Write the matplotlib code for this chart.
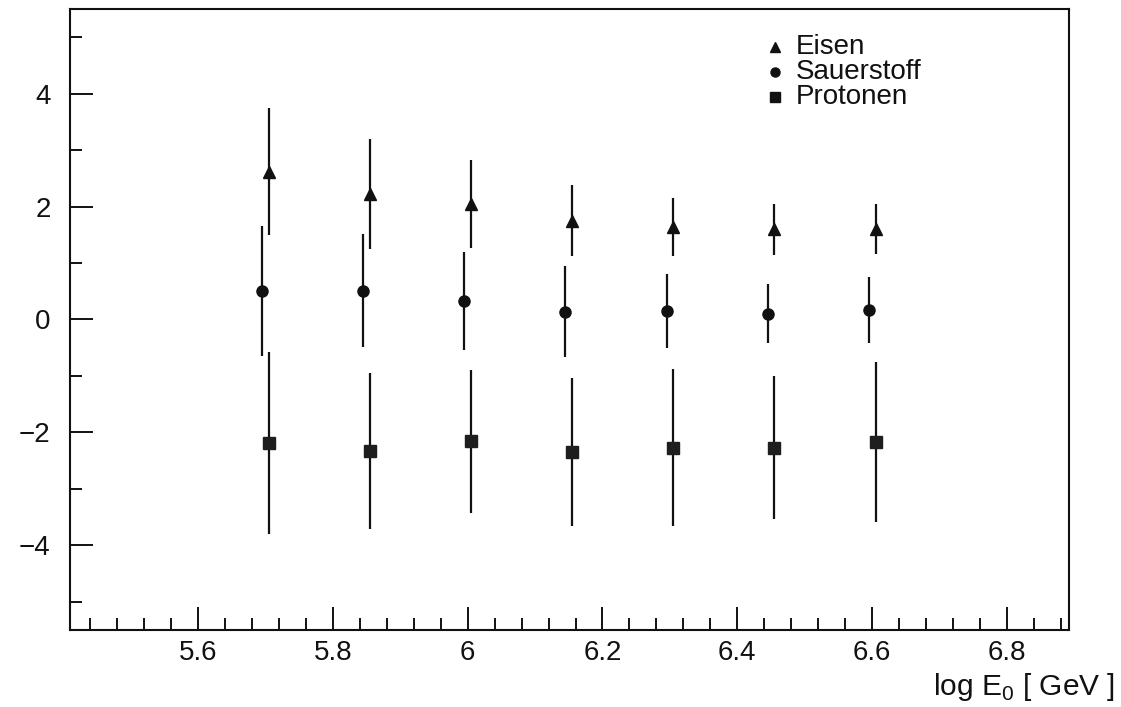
import matplotlib
matplotlib.use("Agg")
import matplotlib.pyplot as plt
from matplotlib.ticker import MultipleLocator, FixedLocator, FixedFormatter

plt.rcParams['font.family'] = ['Liberation Sans', 'DejaVu Sans']
plt.rcParams['mathtext.fontset'] = 'custom'
plt.rcParams['mathtext.rm'] = 'Liberation Sans'

# log10 of primary energy (GeV) for each species
x_eisen = [5.705, 5.855, 6.005, 6.155, 6.305, 6.455, 6.605]
x_sauerstoff = [5.695, 5.845, 5.995, 6.145, 6.295, 6.445, 6.595]
x_protonen = [5.705, 5.855, 6.005, 6.155, 6.305, 6.455, 6.605]

# mean values and their spreads
y_eisen = [2.62, 2.22, 2.05, 1.75, 1.64, 1.60, 1.60]
e_eisen = [1.13, 0.97, 0.78, 0.63, 0.52, 0.45, 0.44]

y_sauerstoff = [0.51, 0.51, 0.33, 0.14, 0.15, 0.10, 0.17]
e_sauerstoff = [1.15, 1.00, 0.87, 0.81, 0.66, 0.52, 0.58]

y_protonen = [-2.19, -2.33, -2.16, -2.34, -2.27, -2.27, -2.17]
e_protonen = [1.61, 1.38, 1.27, 1.31, 1.39, 1.27, 1.41]

labels = ["Eisen", "Sauerstoff", "Protonen"]
x_ticks = [5.6, 5.8, 6.0, 6.2, 6.4, 6.6, 6.8]
x_ticklabels = ["5.6", "5.8", "6", "6.2", "6.4", "6.6", "6.8"]
y_ticks = [-4, -2, 0, 2, 4]

fig = plt.figure(figsize=(11.21, 7.07), dpi=100)
ax = fig.add_axes([0.0624, 0.1089, 0.8912, 0.8784])

ink = "#111111"
ax.errorbar(x_eisen, y_eisen, yerr=e_eisen, fmt='^', ms=9, color=ink,
            ecolor=ink, elinewidth=1.6, capsize=0)
ax.errorbar(x_sauerstoff, y_sauerstoff, yerr=e_sauerstoff, fmt='o', ms=8,
            color=ink, ecolor=ink, elinewidth=1.6, capsize=0)
ax.errorbar(x_protonen, y_protonen, yerr=e_protonen, fmt='s', ms=8.5,
            color="#1e1e1e", ecolor=ink, elinewidth=1.6, capsize=0)

ax.set_xlim(5.41, 6.892)
ax.set_ylim(-5.5, 5.5)

ax.xaxis.set_major_locator(FixedLocator(x_ticks))
ax.xaxis.set_major_formatter(FixedFormatter(x_ticklabels))
ax.xaxis.set_minor_locator(MultipleLocator(0.04))
ax.yaxis.set_major_locator(FixedLocator(y_ticks))
ax.yaxis.set_minor_locator(MultipleLocator(1))

ax.tick_params(which='both', direction='in', top=False, right=False,
               width=1.4, color=ink, labelsize=20, labelcolor=ink)
ax.tick_params(which='major', length=16.5)
ax.tick_params(which='minor', length=8.5)
ax.tick_params(axis='x', which='major', pad=7)
ax.tick_params(axis='y', which='major', pad=14)

for s in ax.spines.values():
    s.set_linewidth(1.5)
    s.set_color(ink)

ax.set_xlabel(r"log E$_{\mathregular{0}}$ [ GeV ]", fontsize=21.5, color=ink,
              ha='right', va='center')
ax.xaxis.set_label_coords(1.046, -0.092)

# key in the upper right
markers = ['^', 'o', 's']
key_y = [0.939, 0.899, 0.859]
for m, lab, ky in zip(markers, labels, key_y):
    ax.plot([0.706], [ky], marker=m, ms=6.5, color=ink, linestyle='none',
            transform=ax.transAxes, clip_on=False)
    ax.text(0.727, ky, lab, transform=ax.transAxes, fontsize=20,
            color=ink, ha='left', va='center')

fig.savefig("out.png", dpi=100)
